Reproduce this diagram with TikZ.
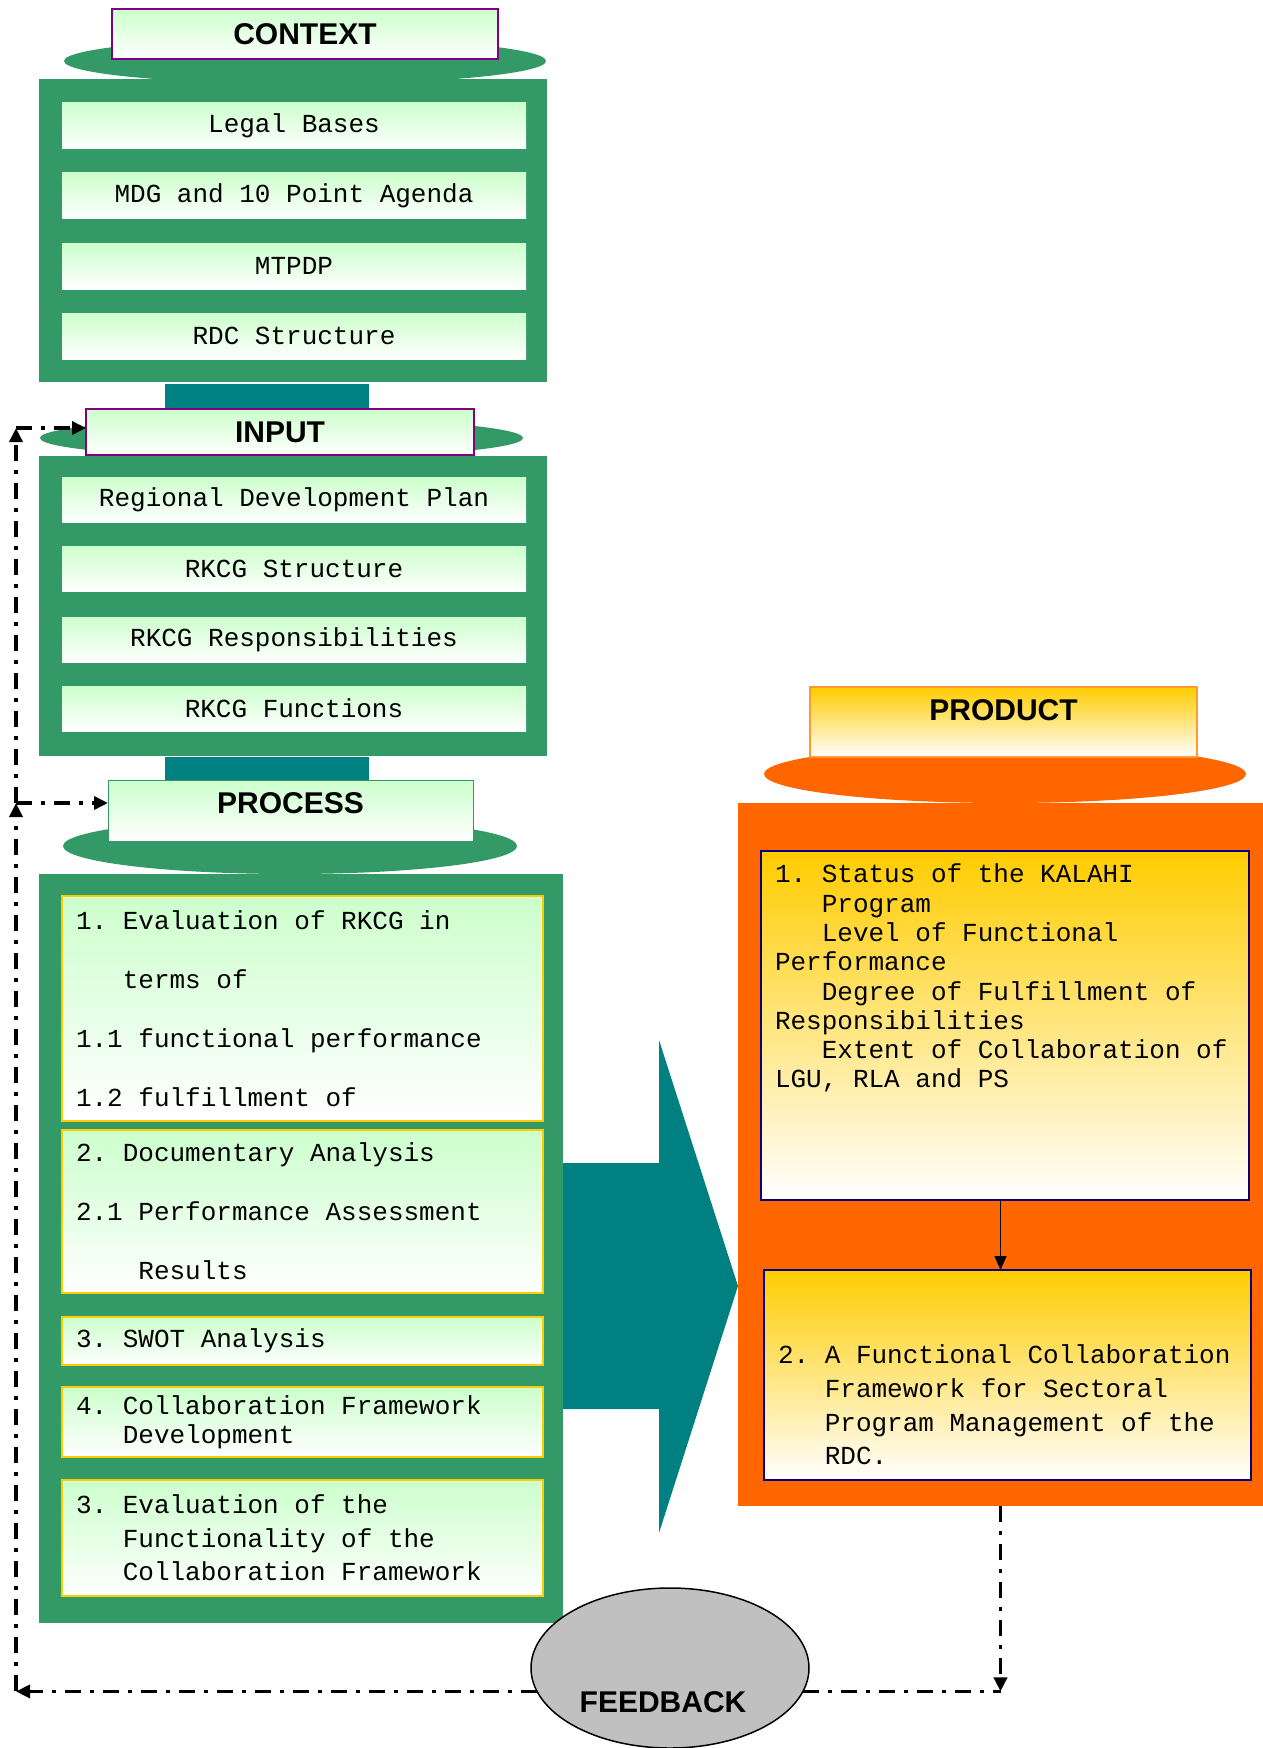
\documentclass[tikz,border=0pt]{standalone}
\usepackage{fontspec}
\setsansfont{Liberation Sans}
\setmonofont{Liberation Mono}
\usetikzlibrary{arrows.meta,shapes.geometric}
\definecolor{seagreen}{HTML}{339966}
\definecolor{tealc}{HTML}{008080}
\definecolor{mint}{HTML}{CCFFCC}
\definecolor{goldc}{HTML}{FFCC00}
\definecolor{orangec}{HTML}{FF6600}
\definecolor{amber}{HTML}{FF9933}
\definecolor{navyc}{HTML}{000080}
\definecolor{purplec}{HTML}{800080}
\definecolor{grayc}{HTML}{C0C0C0}

\begin{document}
\begin{tikzpicture}[x=1pt,y=-1pt,
    every node/.style={inner sep=0pt,outer sep=0pt},
    headbox/.style={rectangle,draw=purplec,line width=1.5pt,top color=mint,bottom color=white,
      font=\fontsize{30}{36}\selectfont\sffamily\bfseries},
    lid/.style={ellipse,fill=seagreen},
    panel/.style={rectangle,fill=seagreen},
    entry/.style={rectangle,top color=mint,bottom color=white,minimum width=464pt,minimum height=46pt,
      font=\fontsize{26}{30}\selectfont\ttfamily},
    procbox/.style={rectangle,draw=goldc,line width=2pt,top color=mint,bottom color=white,
      minimum width=481pt,text width=453pt,inner xsep=14pt,align=left,
      font=\fontsize{26}{30}\selectfont\ttfamily,
      execute at begin node={\spaceskip=0pt\xspaceskip=0pt\relax}},
    resbox/.style={rectangle,draw=navyc,line width=1.5pt,top color=goldc,bottom color=white},
    restxt/.style={anchor=north west,align=left},
    fb/.style={line width=3.5pt,dash pattern=on 16pt off 9pt on 4pt off 9pt,
      -{Triangle[length=14pt,width=13pt]}},
    arw/.style={line width=1.5pt,-{Triangle[length=14pt,width=12pt]}}]
  \useasboundingbox (0,0) rectangle (1263,1748);
  % context
  \node[lid,minimum width=482pt,minimum height=46pt] (ctxlid) at (305,61) {};
  \node[panel,minimum width=508pt,minimum height=303pt] (ctxpanel) at (293,230.5) {};
  \node[headbox,minimum width=386pt,minimum height=50pt] (context) at (305,34) {CONTEXT};
  \node[entry] (legal) at (294,125.5) {Legal Bases};
  \node[entry] (mdg) at (294,195.6) {MDG and 10 Point Agenda};
  \node[entry] (mtpdp) at (294,266) {MTPDP};
  \node[entry] (rdc) at (294,336) {RDC Structure};
  \fill[tealc] (165,384) rectangle (369,410);
  % input
  \node[lid,minimum width=483pt,minimum height=40pt] (inlid) at (281.5,438) {};
  \node[panel,minimum width=508pt,minimum height=300pt] (inpanel) at (293,606) {};
  \node[headbox,minimum width=388pt,minimum height=46pt] (input) at (280,432) {INPUT};
  \node[entry,minimum height=45pt] (rdp) at (294,499.5) {Regional Development Plan};
  \node[entry,minimum height=45pt] (rkcgstruct) at (294,569) {RKCG Structure};
  \node[entry,minimum height=45pt] (rkcgresp) at (294,639.5) {RKCG Responsibilities};
  \node[entry,minimum height=45pt] (rkcgfunc) at (294,708.5) {RKCG Functions};
  \fill[tealc] (165,757) rectangle (369,781);
  % process
  \node[lid,minimum width=454pt,minimum height=56pt] (proclid) at (290,846) {};
  \node[panel,minimum width=524pt,minimum height=749pt] (procpanel) at (301,1248.5) {};
  \node[headbox,draw=seagreen,line width=1pt,minimum width=365pt,minimum height=61pt,
    text depth=15pt] (process) at (290.5,810.5) {PROCESS};
  \node[procbox,minimum height=225pt,font=\fontsize{26}{59}\selectfont\ttfamily] (evalrkcg) at (302.5,1008.5)
    {1. Evaluation of RKCG in\\\hspace*{1.8em}terms of\\1.1 functional performance\\1.2 fulfillment of};
  \node[procbox,minimum height=163pt,font=\fontsize{26}{59}\selectfont\ttfamily] (docanalysis) at (302.5,1211.5)
    {2. Documentary Analysis\\2.1 Performance Assessment\\\hspace*{2.4em}Results};
  \node[procbox,minimum height=48pt] (swot) at (302.5,1341) {3. SWOT Analysis};
  \node[procbox,minimum height=70pt,font=\fontsize{26}{29}\selectfont\ttfamily] (cfdev) at (302.5,1422)
    {4. Collaboration Framework\\\hspace*{1.8em}Development};
  \node[procbox,minimum height=116pt,font=\fontsize{26}{33.5}\selectfont\ttfamily] (cfeval) at (302.5,1538)
    {3. Evaluation of the\\\hspace*{1.8em}Functionality of the\\\hspace*{1.8em}Collaboration Framework};
  % big arrow
  \fill[tealc] (563,1163) -- (659,1163) -- (659,1040) -- (738,1286) -- (659,1533)
    -- (659,1409) -- (563,1409) -- cycle;
  % product
  \node[lid,fill=orangec,minimum width=482pt,minimum height=58pt] (prodlid) at (1005,774) {};
  \node[panel,fill=orangec,minimum width=525pt,minimum height=703pt] (prodpanel) at (1000.5,1154.5) {};
  \node[headbox,draw=amber,top color=goldc,minimum width=387pt,minimum height=70pt,
    text depth=24pt] (product) at (1003.5,722) {PRODUCT};
  \node[resbox,minimum width=488pt,minimum height=349pt] (status) at (1005,1025.5) {};
  \node[restxt,font=\fontsize{26}{29.3}\selectfont\ttfamily] (statustxt) at (775,864)
    {1. Status of the KALAHI\\\hspace*{1.8em}Program\\\hspace*{1.8em}Level of Functional\\Performance\\\hspace*{1.8em}Degree of Fulfillment of\\Responsibilities\\\hspace*{1.8em}Extent of Collaboration of\\LGU, RLA and PS};
  \node[resbox,minimum width=487pt,minimum height=210pt] (framework) at (1007.5,1375) {};
  \node[restxt,font=\fontsize{26}{33.6}\selectfont\ttfamily] (frameworktxt) at (778,1345)
    {2. A Functional Collaboration\\\hspace*{1.8em}Framework for Sectoral\\\hspace*{1.8em}Program Management of the\\\hspace*{1.8em}RDC.};
  \draw[arw] (status.south -| prodpanel.south) -- (framework.north -| prodpanel.south);
  % feedback
  \node[ellipse,draw=black,line width=1.5pt,fill=grayc,minimum width=278pt,minimum height=160pt] (feedback) at (670,1668) {};
  \node[font=\fontsize{30}{36}\selectfont\sffamily\bfseries] (fbtext) at (663,1702) {FEEDBACK};
  \coordinate (fbx) at (16,0);
  \coordinate (fbL) at (feedback.190 -| fbx);
  \coordinate (fbR) at (feedback.350 -| prodpanel.south);
  \coordinate (fbP) at (16,803);
  \coordinate (fbI) at (16,428);
  \draw[fb] (prodpanel.south) -- (fbR);
  \draw[fb,-] (feedback.350) -- (fbR);
  \draw[fb] (feedback.190) -- (fbL);
  \draw[fb] (fbL) -- (fbP);
  \draw[fb] (fbP) -- (fbI);
  \draw[fb] (fbP) -- (fbP -| process.west);
  \draw[fb] (fbI) -- (fbI -| input.west);
\end{tikzpicture}
\end{document}
